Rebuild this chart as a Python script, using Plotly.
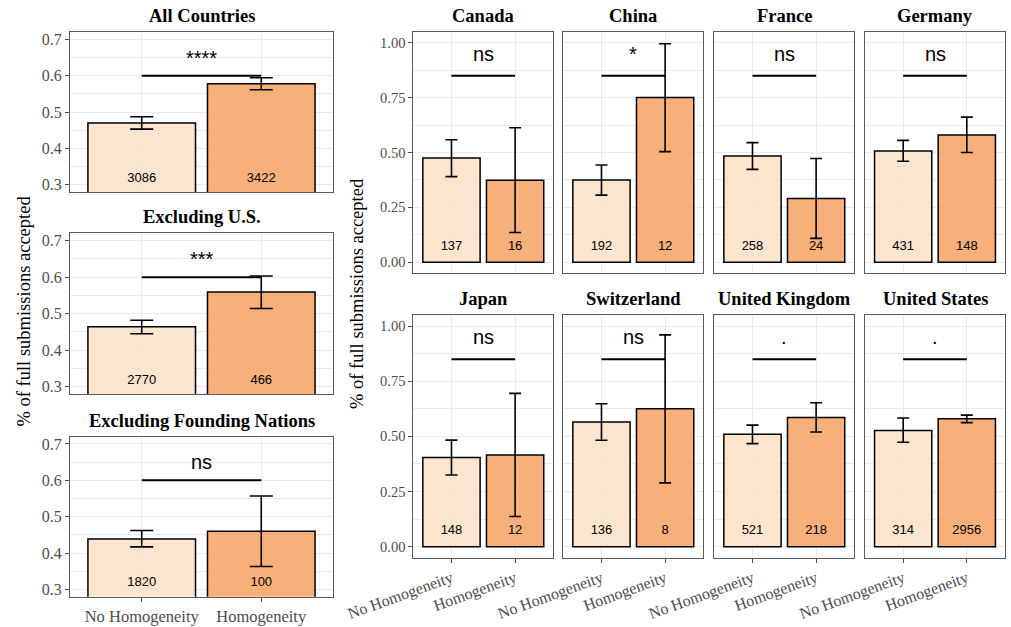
import plotly.graph_objects as go

W, H = 1011, 627

groups = ["No Homogeneity", "Homogeneity"]

left_titles = ["All Countries", "Excluding U.S.", "Excluding Founding Nations"]
left_mean = [[0.470, 0.578], [0.464, 0.559], [0.439, 0.460]]
left_low = [[0.453, 0.561], [0.445, 0.514], [0.417, 0.363]]
left_high = [[0.487, 0.594], [0.482, 0.603], [0.462, 0.557]]
left_n = [[3086, 3422], [2770, 466], [1820, 100]]
left_sig = ["****", "***", "ns"]
left_sig_y = 0.6
left_n_y = 0.317

countries = ["Canada", "China", "France", "Germany",
             "Japan", "Switzerland", "United Kingdom", "United States"]
country_mean = [[0.475, 0.374], [0.375, 0.750], [0.484, 0.290], [0.507, 0.580],
                [0.404, 0.416], [0.565, 0.625], [0.509, 0.586], [0.527, 0.580]]
country_low = [[0.390, 0.136], [0.306, 0.504], [0.423, 0.109], [0.460, 0.500],
               [0.325, 0.137], [0.482, 0.289], [0.467, 0.520], [0.473, 0.562]]
country_high = [[0.558, 0.613], [0.443, 0.995], [0.545, 0.473], [0.555, 0.661],
                [0.483, 0.695], [0.648, 0.960], [0.551, 0.652], [0.583, 0.596]]
country_n = [[137, 16], [192, 12], [258, 24], [431, 148],
             [148, 12], [136, 8], [521, 218], [314, 2956]]
country_sig = ["ns", "*", "ns", "ns", "ns", "ns", ".", "."]
country_sig_y = 0.85
country_n_y = 0.07

fills = ["rgba(252,224,197,0.85)", "rgba(247,162,100,0.85)"]
SERIF = "Liberation Serif"
SANS = "Liberation Sans"
GRID = "#EBEBEB"
BORDER = "#5a5a5a"
TICKC = "#4D4D4D"

# panel pixel boxes (left, right, top, bottom)
left_boxes = [(70, 333, 32, 192), (70, 333, 233.3, 394), (70, 333, 436.7, 596.7)]
cols = [(413.3, 553.3), (563.3, 703.3), (714.3, 854.3), (865, 1005)]
rows = [(31.7, 273.3), (315, 557.7)]

fig = go.Figure()
layout = dict(width=W, height=H, margin=dict(l=0, r=0, t=0, b=0, autoexpand=False),
              paper_bgcolor="white", plot_bgcolor="white", showlegend=False)
annotations = []


def add_panel(k, box, mean, low, high, n, sig, sig_y, n_y, yr, dtick, fmt,
              show_y, show_x, tickangle, cap, title, ytick_size, xtick_size, sig_shift):
    xa = "x" if k == 1 else f"x{k}"
    ya = "y" if k == 1 else f"y{k}"
    l, r, t, b = box
    xs = list(range(len(groups)))
    fig.add_trace(go.Bar(
        x=xs, y=mean, width=0.9, xaxis=xa, yaxis=ya,
        marker=dict(color=fills, line=dict(color="black", width=1.5)),
        error_y=dict(type="data", symmetric=False,
                     array=[h - m for h, m in zip(high, mean)],
                     arrayminus=[m - lo for m, lo in zip(mean, low)],
                     color="black", thickness=1.6, width=cap),
        hoverinfo="skip"))
    fig.add_trace(go.Scatter(
        x=xs, y=[n_y] * len(xs), mode="text", text=[str(v) for v in n],
        textfont=dict(family=SANS, size=13, color="black"),
        xaxis=xa, yaxis=ya, hoverinfo="skip"))
    fig.add_trace(go.Scatter(
        x=[xs[0], xs[-1]], y=[sig_y, sig_y], mode="lines",
        line=dict(color="black", width=2), xaxis=xa, yaxis=ya, hoverinfo="skip"))
    annotations.append(dict(
        x=(xs[0] + xs[-1]) / 2, y=sig_y, xref=xa, yref=ya, text=sig,
        showarrow=False, yanchor="bottom", yshift=sig_shift,
        font=dict(family=SANS, size=20, color="black")))
    annotations.append(dict(
        x=(l + r) / 2 / W, y=1 - (t - 16) / H, xref="paper", yref="paper",
        text=f"<b>{title}</b>", showarrow=False, yanchor="middle", xanchor="center",
        font=dict(family=SERIF, size=18.5, color="black")))
    axis_common = dict(showline=True, mirror=True, linecolor=BORDER, linewidth=1,
                       showgrid=True, gridcolor=GRID, gridwidth=1, zeroline=False,
                       fixedrange=True, automargin=False)
    layout["xaxis" if k == 1 else f"xaxis{k}"] = dict(
        axis_common, domain=[l / W, r / W], anchor=ya, range=[-0.6, 1.6],
        tickmode="array", tickvals=xs, ticktext=groups,
        showticklabels=show_x, ticks="outside" if show_x else "",
        ticklen=4, tickcolor=TICKC, tickangle=tickangle,
        tickfont=dict(family=SERIF, size=xtick_size, color=TICKC))
    layout["yaxis" if k == 1 else f"yaxis{k}"] = dict(
        axis_common, domain=[1 - b / H, 1 - t / H], anchor=xa, range=yr,
        tick0=0, dtick=dtick, tickformat=fmt,
        minor=dict(showgrid=True, gridcolor=GRID, gridwidth=0.5, dtick=dtick / 2, tick0=0),
        showticklabels=show_y, ticks="outside" if show_y else "",
        ticklen=4, tickcolor=TICKC,
        tickfont=dict(family=SERIF, size=ytick_size, color=TICKC))


k = 1
for i in range(3):
    add_panel(k, left_boxes[i], left_mean[i], left_low[i], left_high[i], left_n[i],
              left_sig[i], left_sig_y, left_n_y, [0.28, 0.72], 0.1, ".1f",
              True, i == 2, 0, 11.5, left_titles[i], 16, 16.5, 5)
    k += 1

for j in range(8):
    rr, cc = divmod(j, 4)
    box = (cols[cc][0], cols[cc][1], rows[rr][0], rows[rr][1])
    add_panel(k, box, country_mean[j], country_low[j], country_high[j], country_n[j],
              country_sig[j], country_sig_y, country_n_y, [-0.05, 1.05], 0.25, ".2f",
              cc == 0, rr == 1, -20, 6, countries[j], 14.5, 16, 9)
    k += 1

annotations.append(dict(x=23 / W, y=1 - 311.5 / H, xref="paper", yref="paper",
                        text="% of full submissions accepted", textangle=-90,
                        showarrow=False, xanchor="center", yanchor="middle",
                        font=dict(family=SERIF, size=18.5, color="black")))
annotations.append(dict(x=357 / W, y=1 - 294 / H, xref="paper", yref="paper",
                        text="% of full submissions accepted", textangle=-90,
                        showarrow=False, xanchor="center", yanchor="middle",
                        font=dict(family=SERIF, size=18.5, color="black")))

layout["annotations"] = annotations
fig.update_layout(**layout)
fig.write_html("out.html", config={"responsive": False, "displayModeBar": False},
               post_script="document.body.style.margin='0';document.body.style.overflow='hidden';")
